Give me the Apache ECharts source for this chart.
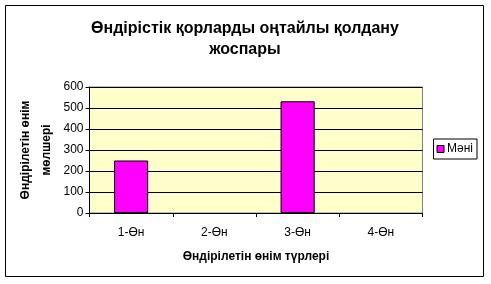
<!DOCTYPE html>
<html><head><meta charset="utf-8">
<script src="https://cdn.jsdelivr.net/npm/echarts@6/dist/echarts.min.js"></script>
<style>html,body{margin:0;padding:0;background:#fff}#c{width:491px;height:284px}</style>
</head><body><div id="c"></div>
<script>
const categories = ['1-Өн', '2-Өн', '3-Өн', '4-Өн'];
const values = [250, null, 532, null];
const seriesName = 'Мәні';
const titleText = 'Өндірістік қорларды оңтайлы қолдану\nжоспары';
const yTitle = 'Өндірілетін өнім\nмөлшері';
const xTitle = 'Өндірілетін өнім түрлері';
const yTicks = [0, 100, 200, 300, 400, 500, 600];

const chart = echarts.init(document.getElementById('c'), null, {renderer: 'canvas'});
const F = 'Liberation Sans, Arial, sans-serif';
chart.setOption({
  animation: false,
  backgroundColor: '#fff',
  graphic: [{
    type: 'rect', shape: {x: 5.5, y: 5.5, width: 478, height: 271},
    style: {fill: 'none', stroke: '#000', lineWidth: 1}, silent: true, z: -1
  }],
  title: {
    text: titleText, left: 240, top: 13, textAlign: 'center',
    textStyle: {fontFamily: F, fontSize: 16, fontWeight: 'bold', color: '#000', lineHeight: 21}
  },
  legend: {
    data: [seriesName], right: 14, top: 139, orient: 'vertical',
    icon: 'rect', itemWidth: 7, itemHeight: 7, itemGap: 0,
    padding: [4, 4, 4, 3], borderColor: '#000', borderWidth: 1,
    textStyle: {fontFamily: F, fontSize: 12, color: '#000', padding: [0, 0, 0, -2]},
    itemStyle: {borderColor: '#000', borderWidth: 1}
  },
  grid: {
    left: 89.5, top: 87, width: 333, height: 126, outerBoundsMode: 'none', containLabel: false,
    show: true, backgroundColor: '#FFFFCC', borderColor: '#808080', borderWidth: 1
  },
  xAxis: {
    type: 'category', data: categories,
    name: xTitle, nameLocation: 'middle', nameGap: 38, nameMoveOverlap: false,
    nameTextStyle: {fontFamily: F, fontSize: 12, fontWeight: 'bold', color: '#000'},
    axisLine: {lineStyle: {color: '#000'}},
    axisTick: {show: true, length: 4, alignWithLabel: false, lineStyle: {color: '#000'}},
    axisLabel: {fontFamily: F, fontSize: 12, color: '#000', margin: 14},
    splitLine: {show: false}
  },
  yAxis: {
    type: 'value', min: yTicks[0], max: yTicks[yTicks.length - 1], interval: 100,
    name: yTitle, nameLocation: 'middle', nameGap: 32, nameRotate: 90, nameMoveOverlap: false,
    nameTextStyle: {fontFamily: F, fontSize: 12, fontWeight: 'bold', color: '#000', lineHeight: 21},
    axisLine: {show: true, lineStyle: {color: '#000'}},
    axisTick: {show: true, length: 4, lineStyle: {color: '#000'}},
    axisLabel: {fontFamily: F, fontSize: 12, color: '#000', margin: 6},
    splitLine: {show: true, lineStyle: {color: '#000', width: 1}}
  },
  series: [{
    type: 'bar', name: seriesName, data: values,
    barWidth: '41%',
    itemStyle: {color: '#FF00FF', borderColor: '#000', borderWidth: 1}
  }]
});
</script></body></html>
